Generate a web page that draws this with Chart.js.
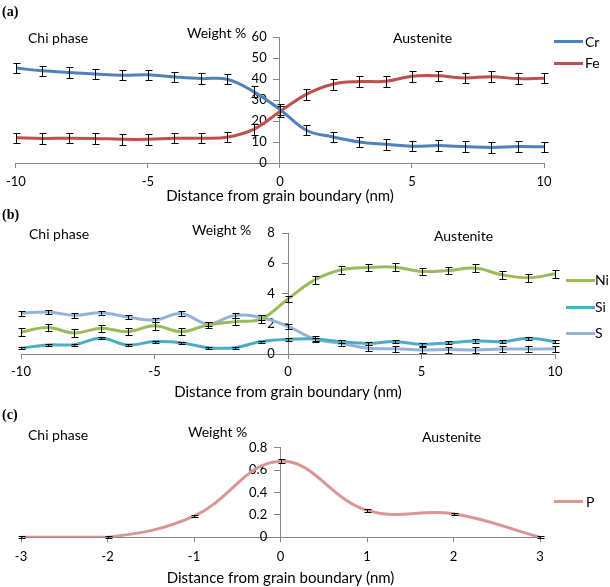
<!DOCTYPE html>
<html>
<head>
<meta charset="utf-8">
<script src="https://cdn.jsdelivr.net/npm/chart.js@4.4.0/dist/chart.umd.min.js"></script>
<style>
body { margin: 0; background: #fff; }
#wrap { position: relative; width: 610px; height: 587px; overflow: hidden; font-family: Lato, sans-serif; color: #000; }
canvas { position: absolute; left: 0; }
.t { position: absolute; font-size: 14px; line-height: 16px; white-space: nowrap; }
.pl { font-family: "Liberation Serif", serif; font-weight: bold; font-size: 14px; }
.lg { position: absolute; height: 3px; width: 29px; }
</style>
</head>
<body>
<div id="wrap">
  <canvas id="chartA" width="610" height="205" style="top:0px"></canvas>
  <canvas id="chartB" width="610" height="206" style="top:195px"></canvas>
  <canvas id="chartC" width="610" height="192" style="top:395px"></canvas>

  <div class="t pl" style="left:2px;top:4px">(a)</div>
  <div class="t" style="left:28px;top:30px">Chi phase</div>
  <div class="t" style="left:187px;top:25px">Weight %</div>
  <div class="t" style="left:393px;top:30px">Austenite</div>
  <div class="lg" style="left:554px;top:40px;background:#4F81BD"></div>
  <div class="t" style="left:585px;top:34px">Cr</div>
  <div class="lg" style="left:554px;top:62px;background:#C0504D"></div>
  <div class="t" style="left:585px;top:55px">Fe</div>

  <div class="t pl" style="left:2px;top:207px">(b)</div>
  <div class="t" style="left:29px;top:226px">Chi phase</div>
  <div class="t" style="left:192px;top:222px">Weight %</div>
  <div class="t" style="left:434px;top:228px">Austenite</div>
  <div class="lg" style="left:566px;top:279px;background:#9BBB59"></div>
  <div class="t" style="left:595px;top:272px">Ni</div>
  <div class="lg" style="left:566px;top:306px;background:#4BACC6"></div>
  <div class="t" style="left:595px;top:299px">Si</div>
  <div class="lg" style="left:566px;top:332px;background:#95B3D7"></div>
  <div class="t" style="left:595px;top:325px">S</div>

  <div class="t pl" style="left:2px;top:407px">(c)</div>
  <div class="t" style="left:28px;top:427px">Chi phase</div>
  <div class="t" style="left:188px;top:424px">Weight %</div>
  <div class="t" style="left:422px;top:429px">Austenite</div>
  <div class="lg" style="left:554px;top:500px;background:#D99694"></div>
  <div class="t" style="left:586px;top:494px">P</div>
</div>

<script>
// distances (nm)
const distAB = [-10, -9, -8, -7, -6, -5, -4, -3, -2, -1, 0, 1, 2, 3, 4, 5, 6, 7, 8, 9, 10];
const distC = [-3, -2, -1, 0, 1, 2, 3];

// (a) weight %
const crVals = [45.2, 43.9, 43.1, 42.4, 41.8, 42.0, 41.0, 40.2, 39.9, 34.0, 25.5, 15.6, 12.4, 10.0, 8.9, 8.0, 8.3, 7.8, 7.4, 7.8, 7.7];
const feVals = [12.0, 11.7, 11.8, 11.7, 11.3, 11.3, 11.8, 11.8, 12.3, 16.0, 24.5, 32.7, 37.5, 38.8, 38.9, 41.3, 41.5, 40.5, 41.1, 40.2, 40.4];
const crErr = [2.5, 2.5, 2.5, 2.5, 2.5, 2.5, 2.5, 2.5, 2.5, 2.5, 2.5, 2.5, 2.5, 2.5, 2.5, 2.5, 2.5, 2.5, 2.5, 2.5, 2.5];
const feErr = [2.5, 2.5, 2.5, 2.5, 2.5, 2.5, 2.5, 2.5, 2.5, 2.5, 2.5, 2.5, 2.5, 2.5, 2.5, 2.5, 2.5, 2.5, 2.5, 2.5, 2.5];

// (b) weight %
const niVals = [1.44, 1.75, 1.39, 1.70, 1.48, 1.86, 1.48, 1.92, 2.14, 2.32, 3.64, 4.90, 5.57, 5.72, 5.74, 5.46, 5.52, 5.68, 5.24, 5.04, 5.30];
const siVals = [0.38, 0.60, 0.62, 1.04, 0.60, 0.82, 0.75, 0.42, 0.42, 0.82, 0.97, 0.99, 0.82, 0.71, 0.82, 0.64, 0.73, 0.86, 0.82, 1.04, 0.82];
const sVals  = [2.69, 2.78, 2.56, 2.72, 2.45, 2.25, 2.67, 1.99, 2.54, 2.41, 1.82, 0.99, 0.71, 0.38, 0.35, 0.27, 0.29, 0.27, 0.33, 0.33, 0.35];
const niErr = [0.25, 0.25, 0.25, 0.25, 0.25, 0.25, 0.25, 0.2, 0.25, 0.25, 0.2, 0.25, 0.25, 0.25, 0.25, 0.25, 0.25, 0.25, 0.25, 0.25, 0.25];
const siErr = [0.06, 0.06, 0.06, 0.06, 0.06, 0.06, 0.06, 0.06, 0.06, 0.06, 0.08, 0.1, 0.1, 0.1, 0.1, 0.1, 0.1, 0.1, 0.1, 0.1, 0.1];
const sErr  = [0.15, 0.15, 0.15, 0.15, 0.15, 0.15, 0.15, 0.15, 0.15, 0.15, 0.15, 0.2, 0.2, 0.2, 0.2, 0.2, 0.2, 0.2, 0.2, 0.2, 0.2];

// (c) weight %
const pVals = [0.0, 0.0, 0.19, 0.68, 0.24, 0.21, 0.0];
const pErr  = [0.01, 0.01, 0.01, 0.015, 0.01, 0.01, 0.01];

const axisGrey = '#868686';

const errorBars = {
    id: 'errorBars',
    afterDatasetsDraw(chart) {
        const ctx = chart.ctx;
        const xs = chart.scales.x, ys = chart.scales.y;
        ctx.save();
        ctx.strokeStyle = '#000';
        ctx.lineWidth = 1;
        chart.data.datasets.forEach(ds => {
            if (!ds.errors) return;
            ds.data.forEach((p, i) => {
                const e = ds.errors[i];
                const px = Math.round(xs.getPixelForValue(p.x)) + 0.5;
                const top = Math.round(ys.getPixelForValue(p.y + e)) + 0.5;
                const bot = Math.round(ys.getPixelForValue(p.y - e)) + 0.5;
                ctx.beginPath();
                ctx.moveTo(px, top); ctx.lineTo(px, bot);
                ctx.moveTo(px - 3, top); ctx.lineTo(px + 4, top);
                ctx.moveTo(px - 3, bot); ctx.lineTo(px + 4, bot);
                ctx.stroke();
            });
        });
        ctx.restore();
    }
};

function serie(xs, vals, errs, color) {
    return {
        data: xs.map((x, i) => ({ x: x, y: vals[i] })),
        errors: errs,
        borderColor: color,
        borderWidth: 3,
        pointRadius: 0,
        tension: 0.4,
        fill: false
    };
}

function desenhar(id, datasets, x, y, geo) {
    new Chart(document.getElementById(id), {
        type: 'line',
        data: { datasets: datasets },
        plugins: [errorBars],
        options: {
            responsive: false,
            animation: false,
            events: [],
            layout: { padding: { left: geo.left, right: geo.right, top: geo.top, bottom: 0 } },
            plugins: { legend: { display: false }, tooltip: { enabled: false } },
            scales: {
                x: {
                    type: 'linear',
                    min: x.min, max: x.max,
                    afterFit: s => { s.height = geo.axisH; },
                    ticks: { stepSize: x.step, padding: geo.tickPad, color: '#000', font: { family: 'Lato', size: 13 } },
                    grid: { drawOnChartArea: false, tickLength: 5, color: axisGrey },
                    border: { color: axisGrey },
                    title: {
                        display: true,
                        text: 'Distance from grain boundary (nm)',
                        color: '#000',
                        font: { family: 'Lato', size: 15 },
                        padding: { top: 0, bottom: geo.titlePad }
                    }
                },
                y: {
                    position: { x: 0 },
                    min: 0, max: y.max,
                    ticks: {
                        stepSize: y.step,
                        color: '#000',
                        font: { family: 'Lato', size: 13 },
                        callback: v => Number(v.toFixed(1)) + '    '
                    },
                    grid: { drawOnChartArea: false, tickLength: 6, color: axisGrey },
                    border: { color: axisGrey }
                }
            }
        }
    });
}

document.addEventListener('DOMContentLoaded', () => {
    desenhar('chartA', [
        serie(distAB, crVals, crErr, '#4F81BD'),
        serie(distAB, feVals, feErr, '#C0504D')
    ], { min: -10, max: 10, step: 5 }, { max: 60, step: 10 },
    { left: 15, right: 66, top: 37, axisH: 42, tickPad: 6, titlePad: 0 });

    desenhar('chartB', [
        serie(distAB, niVals, niErr, '#9BBB59'),
        serie(distAB, siVals, siErr, '#4BACC6'),
        serie(distAB, sVals, sErr, '#95B3D7')
    ], { min: -10, max: 10, step: 5 }, { max: 8, step: 2 },
    { left: 21, right: 55, top: 38, axisH: 47, tickPad: 5, titlePad: 0 });

    desenhar('chartC', [
        serie(distC, pVals, pErr, '#D99694')
    ], { min: -3, max: 3, step: 1 }, { max: 0.8, step: 0.2 },
    { left: 21, right: 70, top: 52.7, axisH: 49.7, tickPad: 7, titlePad: 0.3 });
});
</script>
</body>
</html>
